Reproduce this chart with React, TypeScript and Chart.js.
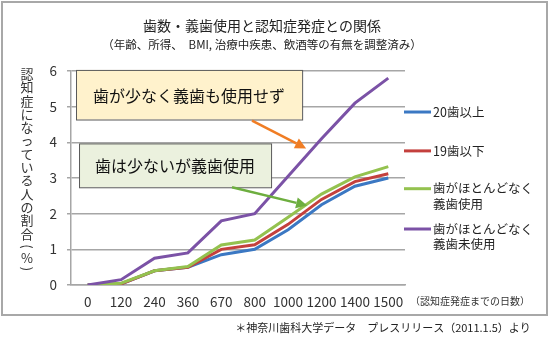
import React, { useEffect, useRef } from "react";
import { Chart, registerables } from "chart.js";

Chart.register(...registerables);

// ---------- data ----------
const categories = ["0", "120", "240", "360", "670", "800", "1000", "1200", "1400", "1500"];
const seriesNames = ["20歯以上", "19歯以下", "歯がほとんどなく\n義歯使用", "歯がほとんどなく\n義歯未使用"];
const teeth20Plus = [0, 0.03, 0.4, 0.5, 0.85, 1.0, 1.55, 2.25, 2.77, 3.0];
const teeth19Less = [0, 0.03, 0.4, 0.5, 1.0, 1.13, 1.7, 2.4, 2.9, 3.12];
const fewWithDenture = [0, 0.05, 0.4, 0.52, 1.12, 1.26, 1.9, 2.55, 3.03, 3.32];
const fewNoDenture = [0, 0.15, 0.75, 0.9, 1.8, 2.0, 3.05, 4.1, 5.1, 5.8];
const seriesColors = ["#3B78C3", "#C4403D", "#94C24F", "#7B52A6"];
const yMin = 0;
const yMax = 6;
const yStep = 1;

const titleText = "歯数・義歯使用と認知症発症との関係";
const subtitleText = "（年齢、所得、　BMI, 治療中疾患、飲酒等の有無を調整済み）";
const yTitleText = "認知症になっている人の割合";
const yUnitText = "%";
const xUnitText = "（認知症発症までの日数）";
const footnoteText = "＊神奈川歯科大学データ　プレスリリース（2011.1.5）より";
const callout1Text = "歯が少なく義歯も使用せず";
const callout2Text = "歯は少ないが義歯使用";

const FONT = "'Noto Sans CJK JP', 'Noto Sans', sans-serif";

const decorPlugin = {
  id: "decor",
  beforeDraw(chart: any) {
    const ctx = chart.ctx;
    ctx.save();
    ctx.fillStyle = "#ffffff";
    ctx.fillRect(0, 0, chart.width, chart.height);
    ctx.strokeStyle = "#A8A8A8";
    ctx.lineWidth = 2;
    ctx.strokeRect(2, 2, 545, 313);
    ctx.restore();
  },
  afterDraw(chart: any) {
    const ctx = chart.ctx;
    const area = chart.chartArea;
    const xs = chart.scales.x;
    const ys = chart.scales.y;
    const px = (i: number) => {
      const a = xs.getPixelForValue(0);
      const b = xs.getPixelForValue(1);
      return a + (b - a) * i;
    };
    const py = (v: number) => ys.getPixelForValue(v);

    ctx.save();
    ctx.textBaseline = "middle";

    // titles
    ctx.fillStyle = "#222";
    ctx.textAlign = "center";
    ctx.font = `14px ${FONT}`;
    ctx.fillText(titleText, 262, 26);
    ctx.font = `11.5px ${FONT}`;
    ctx.fillText(subtitleText, 262, 45);

    // vertical y title
    ctx.font = `13px ${FONT}`;
    ctx.fillStyle = "#333";
    const chars = Array.from(yTitleText);
    chars.forEach((c, k) => {
      ctx.fillText(c, 27, 74 + k * 13.3);
    });
    const yBase = 74 + chars.length * 13.3;
    ctx.save();
    ctx.translate(27, yBase - 0.5);
    ctx.rotate(Math.PI / 2);
    ctx.fillText("(", 0, 0);
    ctx.restore();
    ctx.fillText(yUnitText, 27, yBase + 11);
    ctx.save();
    ctx.translate(27, yBase + 22);
    ctx.rotate(Math.PI / 2);
    ctx.fillText(")", 0, 0);
    ctx.restore();

    // x unit
    ctx.font = `10px ${FONT}`;
    ctx.textAlign = "left";
    ctx.fillText(xUnitText, area.right + 5, 301);

    // footnote
    ctx.font = `11px ${FONT}`;
    ctx.textAlign = "center";
    ctx.fillStyle = "#222";
    ctx.fillText(footnoteText, 383, 328);

    // legend
    const legendY = [py(4.85), py(3.76), py(2.7), py(1.57)];
    seriesNames.forEach((name, k) => {
      const y = legendY[k];
      ctx.strokeStyle = seriesColors[k];
      ctx.lineWidth = 3;
      ctx.beginPath();
      ctx.moveTo(area.right - 1, y);
      ctx.lineTo(area.right + 26, y);
      ctx.stroke();
      ctx.fillStyle = "#222";
      ctx.textAlign = "left";
      ctx.font = `12.5px ${FONT}`;
      name.split("\n").forEach((line, j) => {
        ctx.fillText(line, area.right + 28, y + j * 15.5);
      });
    });

    // callout boxes
    const drawBox = (x0: number, x1: number, y0: number, y1: number, fill: string, text: string) => {
      const L = px(x0), R = px(x1), T = py(y0), B = py(y1);
      ctx.fillStyle = fill;
      ctx.fillRect(L, T, R - L, B - T);
      ctx.strokeStyle = "#5A5A5A";
      ctx.lineWidth = 1;
      ctx.strokeRect(L + 0.5, T + 0.5, R - L, B - T);
      ctx.fillStyle = "#111";
      ctx.font = `16px ${FONT}`;
      ctx.textAlign = "center";
      ctx.fillText(text, (L + R) / 2, (T + B) / 2 + 1);
    };
    drawBox(-0.35, 6.42, 6.03, 4.64, "#FFF2CC", callout1Text);
    drawBox(-0.26, 5.49, 3.97, 2.74, "#EBF1DE", callout2Text);

    // arrows
    const arrow = (x0: number, y0: number, x1: number, y1: number, color: string) => {
      const ax = px(x0), ay = py(y0), bx = px(x1), by = py(y1);
      const ang = Math.atan2(by - ay, bx - ax);
      const head = 11;
      const hw = 5.5;
      const sx = bx - Math.cos(ang) * head;
      const sy = by - Math.sin(ang) * head;
      ctx.strokeStyle = color;
      ctx.fillStyle = color;
      ctx.lineWidth = 2.5;
      ctx.beginPath();
      ctx.moveTo(ax, ay);
      ctx.lineTo(sx, sy);
      ctx.stroke();
      ctx.beginPath();
      ctx.moveTo(bx, by);
      ctx.lineTo(sx + Math.sin(ang) * hw, sy - Math.cos(ang) * hw);
      ctx.lineTo(sx - Math.sin(ang) * hw, sy + Math.cos(ang) * hw);
      ctx.closePath();
      ctx.fill();
    };
    arrow(4.92, 4.61, 6.54, 3.83, "#F07D24");
    arrow(4.32, 2.74, 6.57, 2.23, "#6DAE3F");

    ctx.restore();
  },
};

export default function App() {
  const canvasRef = useRef<HTMLCanvasElement | null>(null);

  useEffect(() => {
    if (!canvasRef.current) return;
    const seriesData = [teeth20Plus, teeth19Less, fewWithDenture, fewNoDenture];
    const drawOrder = [3, 2, 1, 0];
    const chart = new Chart(canvasRef.current, {
      type: "line",
      data: {
        labels: categories,
        datasets: seriesData.map((d, k) => ({
          label: seriesNames[k],
          data: d,
          borderColor: seriesColors[k],
          backgroundColor: seriesColors[k],
          borderWidth: 3,
          pointRadius: 0,
          tension: 0,
          fill: false,
          order: drawOrder[k],
        })),
      },
      options: {
        animation: false,
        responsive: false,
        maintainAspectRatio: false,
        devicePixelRatio: 1,
        layout: { padding: { left: 0, top: 71, right: 145, bottom: 0 } },
        plugins: {
          legend: { display: false },
          tooltip: { enabled: false },
          title: { display: false },
        },
        scales: {
          x: {
            type: "category",
            offset: true,
            grid: { display: false, drawTicks: false },
            border: { display: true, color: "#A6A6A6", width: 1.5 },
            ticks: {
              autoSkip: false,
              maxRotation: 0,
              minRotation: 0,
              padding: 9,
              color: "#333",
              font: { family: FONT, size: 13.5 },
            },
            afterFit: (s: any) => {
              s.height = 65;
            },
          },
          y: {
            min: yMin,
            max: yMax,
            ticks: {
              stepSize: yStep,
              padding: 10,
              color: "#333",
              font: { family: FONT, size: 13.5 },
            },
            grid: { color: "#A6A6A6", lineWidth: 1.5, tickLength: 4 },
            border: { color: "#A6A6A6", width: 1.5 },
            afterFit: (s: any) => {
              s.width = 71;
            },
          },
        },
      },
      plugins: [decorPlugin],
    } as any);
    return () => chart.destroy();
  }, []);

  return (
    <div style={{ position: "fixed", left: 0, top: 0, width: 550, height: 350, background: "#fff" }}>
      <canvas ref={canvasRef} width={550} height={350} style={{ width: 550, height: 350, display: "block" }} />
    </div>
  );
}
